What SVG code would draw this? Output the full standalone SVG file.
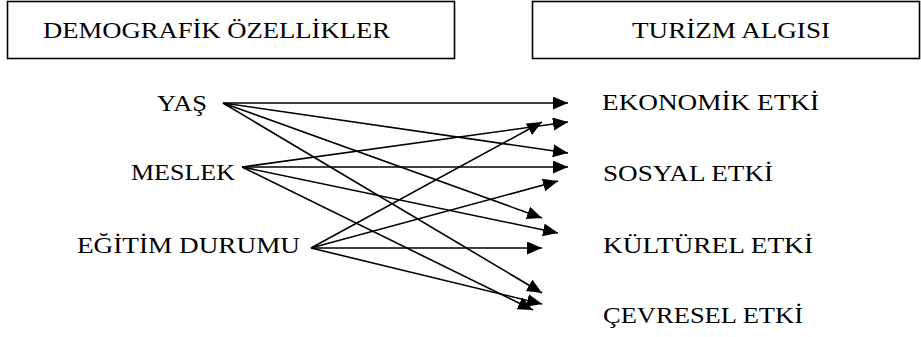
<svg xmlns="http://www.w3.org/2000/svg" width="921" height="337" viewBox="0 0 921 337">
<style>
text{font-family:"Liberation Serif","DejaVu Serif",serif;font-size:24px;fill:#000}
.box{fill:#fff;stroke:#000;stroke-width:1.6}
.c line{stroke:#000;stroke-width:1.6;marker-end:url(#ah)}
</style>
<defs>
<marker id="ah" markerUnits="userSpaceOnUse" markerWidth="16" markerHeight="14" refX="15" refY="6.5" orient="auto" viewBox="0 0 16 14">
<path d="M0,0 L15,6.5 L0,13 z" fill="#000"/>
</marker>
</defs>
<rect width="921" height="337" fill="#fff"/>
<g id="demografik">
<rect class="box" x="7.5" y="1.5" width="447" height="57"/>
<text x="43" y="38" textLength="347" lengthAdjust="spacingAndGlyphs">DEMOGRAFİK ÖZELLİKLER</text>
</g>
<g id="turizm">
<rect class="box" x="532.5" y="1.5" width="387" height="57"/>
<text x="632" y="38" textLength="198" lengthAdjust="spacingAndGlyphs">TURİZM ALGISI</text>
</g>
<g id="yas"><text x="157" y="111" textLength="50" lengthAdjust="spacingAndGlyphs">YAŞ</text></g>
<g id="meslek"><text x="131" y="180" textLength="104" lengthAdjust="spacingAndGlyphs">MESLEK</text></g>
<g id="egitim"><text x="77" y="252.5" textLength="223" lengthAdjust="spacingAndGlyphs">EĞİTİM DURUMU</text></g>
<g id="ekonomik"><text x="602" y="110" textLength="217" lengthAdjust="spacingAndGlyphs">EKONOMİK ETKİ</text></g>
<g id="sosyal"><text x="603" y="181" textLength="170" lengthAdjust="spacingAndGlyphs">SOSYAL ETKİ</text></g>
<g id="kulturel"><text x="603" y="253" textLength="210" lengthAdjust="spacingAndGlyphs">KÜLTÜREL ETKİ</text></g>
<g id="cevresel"><text x="603" y="323" textLength="200" lengthAdjust="spacingAndGlyphs">ÇEVRESEL ETKİ</text></g>
<g id="connectors" class="c">
<line x1="223" y1="103" x2="568" y2="103"/>
<line x1="223" y1="103" x2="568" y2="153"/>
<line x1="223" y1="103" x2="542" y2="218"/>
<line x1="223" y1="103" x2="542" y2="293"/>
<line x1="242" y1="167" x2="568" y2="122"/>
<line x1="242" y1="167" x2="568" y2="167"/>
<line x1="242" y1="167" x2="558" y2="233"/>
<line x1="242" y1="167" x2="533" y2="310"/>
<line x1="311" y1="248" x2="542" y2="122"/>
<line x1="311" y1="248" x2="558" y2="181"/>
<line x1="311" y1="248" x2="542" y2="248"/>
<line x1="311" y1="248" x2="542" y2="304"/>
</g>
</svg>
